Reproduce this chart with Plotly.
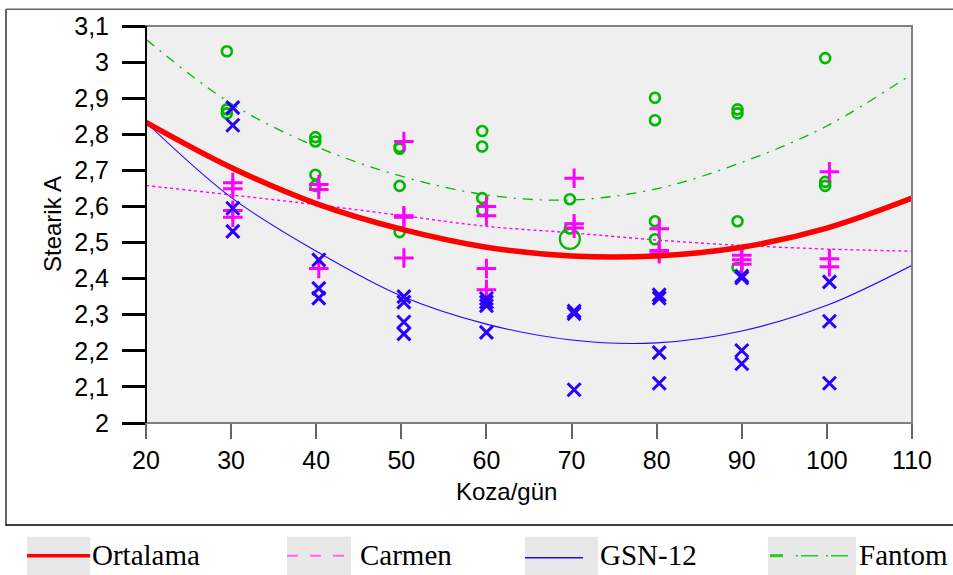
import plotly.graph_objects as go

# ---------------- data ----------------
fantom_day = [29.5, 39.9, 49.8, 59.5, 69.8, 79.8, 89.5, 99.8]
carmen_day = [30.2, 40.3, 50.3, 60.0, 70.3, 80.3, 90.0, 100.3]
gsn_day = [30.2, 40.3, 50.3, 60.0, 70.3, 80.3, 90.0, 100.3]

fantom_vals = [
    [3.030, 2.869, 2.858],
    [2.792, 2.780, 2.688, 2.657],
    [2.765, 2.760, 2.657, 2.529],
    [2.809, 2.766, 2.623, 2.590],
    [2.620, 2.539],
    [2.901, 2.839, 2.559, 2.509],
    [2.869, 2.858, 2.559, 2.431],
    [3.011, 2.668, 2.657],
]
carmen_vals = [
    [2.666, 2.649, 2.589, 2.570],
    [2.661, 2.647, 2.428],
    [2.780, 2.574, 2.570, 2.457],
    [2.600, 2.574, 2.428, 2.369],
    [2.678, 2.552, 2.540],
    [2.538, 2.478, 2.469],
    [2.465, 2.452, 2.440],
    [2.696, 2.455, 2.433],
]
gsn_vals = [
    [2.874, 2.825, 2.595, 2.531],
    [2.452, 2.373, 2.346],
    [2.350, 2.335, 2.280, 2.247],
    [2.345, 2.335, 2.325, 2.251],
    [2.310, 2.303, 2.092],
    [2.355, 2.346, 2.195, 2.110],
    [2.407, 2.402, 2.201, 2.164],
    [2.391, 2.282, 2.110],
]
big_circle_x = [69.8]
big_circle_y = [2.510]

# fitted curves
curve_x = [20, 30, 40, 50, 60, 70, 80, 90, 100, 110]
ortalama_curve = [2.833, 2.708, 2.608, 2.537, 2.487, 2.463, 2.463, 2.487, 2.540, 2.623]
carmen_curve = [2.658, 2.632, 2.605, 2.575, 2.545, 2.527, 2.507, 2.492, 2.482, 2.476]
gsn_curve = [2.833, 2.625, 2.476, 2.352, 2.274, 2.230, 2.222, 2.255, 2.326, 2.437]
fantom_curve = [3.063, 2.885, 2.766, 2.684, 2.632, 2.618, 2.649, 2.722, 2.823, 2.967]

y_ticks = [2.0, 2.1, 2.2, 2.3, 2.4, 2.5, 2.6, 2.7, 2.8, 2.9, 3.0, 3.1]
y_tick_text = ["2", "2,1", "2,2", "2,3", "2,4", "2,5", "2,6", "2,7", "2,8", "2,9", "3", "3,1"]
x_ticks = [20, 30, 40, 50, 60, 70, 80, 90, 100, 110]
legend_names = ["Ortalama", "Carmen", "GSN-12", "Fantom"]

# ---------------- styles ----------------
RED = "#ff0000"
PINK = "#ff00ff"
BLUE = "#2a00ff"
GREEN = "#00b800"

W, H = 953, 575
L, R, T, B = 146, 41, 22, 152
PW, PH = W - L - R, H - T - B


def px(x):
    return (x - L) / PW


def py(y):
    return (H - B - y) / PH


def flat(days, vals):
    xs, ys = [], []
    for d, v in zip(days, vals):
        for yv in v:
            xs.append(d)
            ys.append(yv)
    return xs, ys


fig = go.Figure()

fig.add_trace(go.Scatter(x=curve_x, y=carmen_curve, mode="lines", line=dict(color=PINK, width=1.4, dash="3px,3px", shape="spline"), showlegend=False))
fig.add_trace(go.Scatter(x=curve_x, y=gsn_curve, mode="lines", line=dict(color=BLUE, width=1.1, shape="spline"), showlegend=False))
fig.add_trace(go.Scatter(x=curve_x, y=fantom_curve, mode="lines", line=dict(color=GREEN, width=1.3, dash="10px,7px,2px,7px", shape="spline"), showlegend=False))

fx, fy = flat(fantom_day, fantom_vals)
fig.add_trace(go.Scatter(x=fx, y=fy, mode="markers", marker=dict(symbol="circle-open", size=10, color=GREEN, line=dict(width=2.6, color=GREEN)), showlegend=False))
fig.add_trace(go.Scatter(x=big_circle_x, y=big_circle_y, mode="markers", marker=dict(symbol="circle-open", size=20, color=GREEN, line=dict(width=2.2, color=GREEN)), showlegend=False))
cx, cy = flat(carmen_day, carmen_vals)
fig.add_trace(go.Scatter(x=cx, y=cy, mode="markers", marker=dict(symbol="cross-thin", size=14, color=PINK, line=dict(width=3, color=PINK)), showlegend=False))
gx, gy = flat(gsn_day, gsn_vals)
fig.add_trace(go.Scatter(x=gx, y=gy, mode="markers", marker=dict(symbol="x-thin", size=13, color=BLUE, line=dict(width=3, color=BLUE)), showlegend=False))

fig.add_trace(go.Scatter(x=curve_x, y=ortalama_curve, mode="lines", line=dict(color=RED, width=5.5, shape="spline"), showlegend=False))

shapes = []
# plot border (grey) top/right/bottom
shapes.append(dict(type="rect", xref="paper", yref="paper", x0=0, x1=1, y0=0, y1=1, line=dict(color="#808080", width=2), layer="above"))
# left axis black
shapes.append(dict(type="line", xref="paper", yref="paper", x0=0, x1=0, y0=0, y1=1, line=dict(color="black", width=2), layer="above"))
# outer frame
shapes.append(dict(type="line", xref="paper", yref="paper", x0=px(6), x1=px(953), y0=py(5), y1=py(5), line=dict(color="#666666", width=1.5)))
shapes.append(dict(type="line", xref="paper", yref="paper", x0=px(6), x1=px(6), y0=py(5), y1=py(527), line=dict(color="#333333", width=1.5)))
shapes.append(dict(type="line", xref="paper", yref="paper", x0=px(6), x1=px(953), y0=py(526), y1=py(526), line=dict(color="black", width=1.5)))

# legend boxes and samples
boxes = [(27, 90), (287, 351), (525, 598), (768, 856)]
for x0, x1 in boxes:
    shapes.append(dict(type="rect", xref="paper", yref="paper", x0=px(x0), x1=px(x1), y0=py(538), y1=py(578), fillcolor="#e8e8e8", line=dict(width=0)))
shapes.append(dict(type="line", xref="paper", yref="paper", x0=px(27), x1=px(90), y0=py(557), y1=py(557), line=dict(color=RED, width=3.5)))
shapes.append(dict(type="line", xref="paper", yref="paper", x0=px(287), x1=px(351), y0=py(557), y1=py(557), line=dict(color="#ff66dd", width=2, dash="11px,12px")))
shapes.append(dict(type="line", xref="paper", yref="paper", x0=px(525), x1=px(583), y0=py(559), y1=py(559), line=dict(color=BLUE, width=1.5)))
shapes.append(dict(type="line", xref="paper", yref="paper", x0=px(770), x1=px(783), y0=py(557), y1=py(557), line=dict(color="#22cc22", width=3)))
shapes.append(dict(type="line", xref="paper", yref="paper", x0=px(796), x1=px(853), y0=py(557), y1=py(557), line=dict(color="#22cc22", width=1.5, dash="2px,3px,17px,8px")))

annotations = []
legend_x = [90, 358, 598, 857]
for name, lx in zip(legend_names, legend_x):
    annotations.append(dict(text=name, xref="paper", yref="paper", x=px(lx), y=py(556), xanchor="left", yanchor="middle", showarrow=False,
                            font=dict(family="Liberation Serif", size=29, color="black")))
annotations.append(dict(text="Koza/gün", xref="paper", yref="paper", x=px(506), y=py(492), xanchor="center", yanchor="middle", showarrow=False,
                        font=dict(family="Liberation Sans", size=24, color="black")))
annotations.append(dict(text="Stearik A", xref="paper", yref="paper", x=px(52), y=py(222), xanchor="center", yanchor="middle", textangle=-90, showarrow=False,
                        font=dict(family="Liberation Sans", size=24, color="black")))

fig.update_layout(
    width=W, height=H,
    margin=dict(l=L, r=R, t=T, b=B),
    paper_bgcolor="white",
    plot_bgcolor="#efefef",
    shapes=shapes,
    annotations=annotations,
    showlegend=False,
    xaxis=dict(range=[20, 110], tickvals=x_ticks, ticks="outside", ticklen=15, tickwidth=1.5, tickcolor="#666666",
               showgrid=False, zeroline=False, showline=False, ticklabelstandoff=0,
               tickfont=dict(family="Liberation Sans", size=25, color="black")),
    yaxis=dict(range=[2.0, 3.1], tickvals=y_ticks, ticktext=y_tick_text, ticks="outside", ticklen=23, tickwidth=3, tickcolor="black",
               showgrid=False, zeroline=False, showline=False, ticklabelstandoff=8,
               tickfont=dict(family="Liberation Sans", size=25, color="black")),
)

fig.write_html("out.html")
